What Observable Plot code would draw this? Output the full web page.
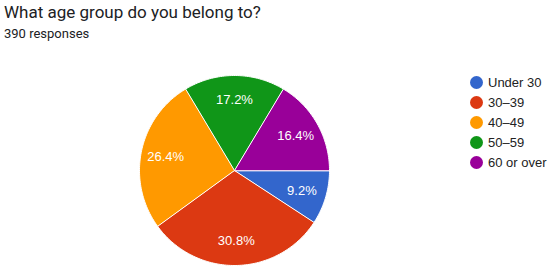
<!DOCTYPE html>
<html>
<head>
<meta charset="utf-8">
<script src="https://cdn.jsdelivr.net/npm/d3@7"></script>
<script src="https://cdn.jsdelivr.net/npm/@observablehq/plot@0.6"></script>
<style>
  html, body { margin: 0; padding: 0; background: #fff; }
  #wrap { position: relative; width: 550px; height: 271px; overflow: hidden; font-family: Roboto, Arial, sans-serif; }
  #title { position: absolute; left: 4px; top: 2px; font-size: 17px; color: #202124; white-space: nowrap; }
  #sub { position: absolute; left: 4px; top: 26px; font-size: 13px; color: #202124; white-space: nowrap; }
  #legend { position: absolute; left: 470px; top: 72px; font-family: Arial, "Liberation Sans", sans-serif; font-size: 13px; color: #222; }
  #legend .item { display: flex; align-items: center; height: 20px; }
  #legend .dot { width: 13px; height: 13px; border-radius: 50%; margin-right: 5px; }
  #chart { position: absolute; left: 0; top: 0; }
</style>
</head>
<body>
<div id="wrap">
  <div id="chart"></div>
  <div id="title"></div>
  <div id="sub"></div>
  <div id="legend"></div>
</div>
<script>
const titleText = "What age group do you belong to?";
const subtitleText = "390 responses";
const categories = ["Under 30", "30–39", "40–49", "50–59", "60 or over"];
const percents = [9.2, 30.8, 26.4, 17.2, 16.4];
const colors = ["#3366cc", "#dc3912", "#ff9900", "#109618", "#990099"];

document.getElementById("title").textContent = titleText;
document.getElementById("sub").textContent = subtitleText;

// pie layout: start at 3 o'clock, clockwise
const data = categories.map((c, i) => ({category: c, value: percents[i]}));
const arcs = d3.pie().sort(null).value(d => d.value)
  .startAngle(Math.PI / 2).endAngle(Math.PI / 2 + 2 * Math.PI)(data);

// polygon outline for each slice (geometry of the arc)
const pts = [];
for (const a of arcs) {
  const n = Math.max(2, Math.ceil((a.endAngle - a.startAngle) / 0.02));
  pts.push({category: a.data.category, x: 0, y: 0});
  for (let k = 0; k <= n; k++) {
    const t = a.startAngle + (a.endAngle - a.startAngle) * k / n;
    pts.push({category: a.data.category, x: Math.sin(t), y: Math.cos(t)});
  }
}
const labelR = 0.74;
const labels = arcs.map(a => {
  const m = (a.startAngle + a.endAngle) / 2;
  return {label: a.data.value.toFixed(1) + "%", x: labelR * Math.sin(m), y: labelR * Math.cos(m)};
});

const cx = 234, cy = 170, r = 95;
const plot = Plot.plot({
  width: 550,
  height: 271,
  margin: 0,
  x: {domain: [-1, 1], range: [cx - r, cx + r], axis: null},
  y: {domain: [-1, 1], range: [cy + r, cy - r], axis: null},
  color: {domain: categories, range: colors},
  style: {background: "transparent"},
  marks: [
    Plot.line(pts, {x: "x", y: "y", z: "category", fill: "category", stroke: "white", strokeWidth: 1, curve: "linear-closed", strokeLinejoin: "round"}),
    Plot.text(labels, {x: "x", y: "y", text: "label", fill: "white", fontSize: 13, fontFamily: "Arial, 'Liberation Sans', sans-serif", textAnchor: "middle"})
  ]
});
document.getElementById("chart").appendChild(plot);

const leg = document.getElementById("legend");
categories.forEach((c, i) => {
  const item = document.createElement("div");
  item.className = "item";
  const dot = document.createElement("span");
  dot.className = "dot";
  dot.style.background = colors[i];
  const t = document.createElement("span");
  t.textContent = c;
  item.appendChild(dot);
  item.appendChild(t);
  leg.appendChild(item);
});
</script>
</body>
</html>
